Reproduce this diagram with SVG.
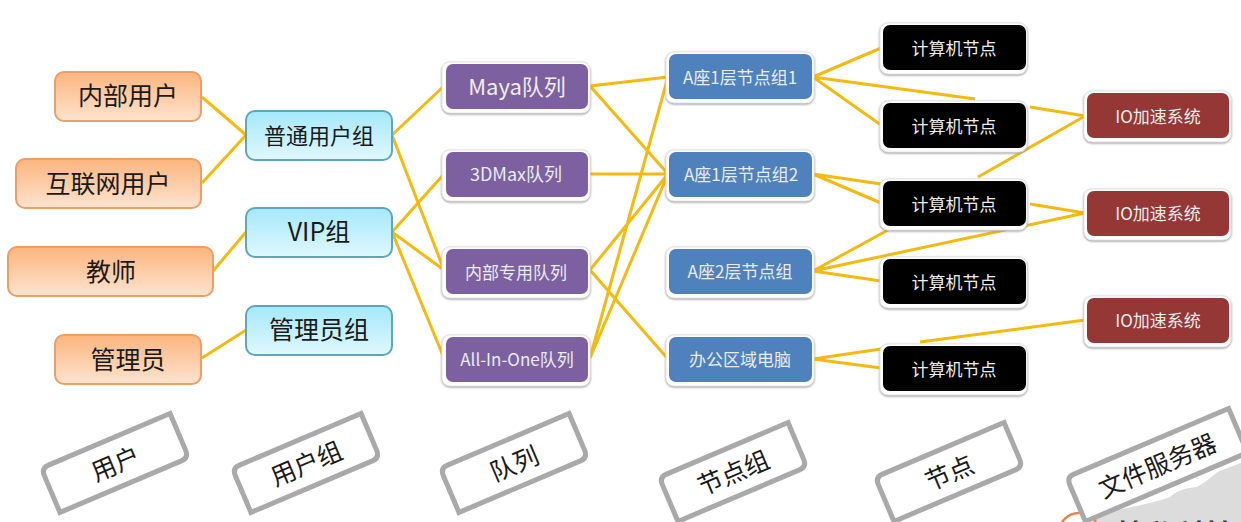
<svg xmlns="http://www.w3.org/2000/svg" width="1241" height="522" viewBox="0 0 1241 522">
<defs>
<linearGradient id="og" x1="0" y1="0" x2="0" y2="1"><stop offset="0" stop-color="#fbb57e"/><stop offset="1" stop-color="#fee3cf"/></linearGradient>
<linearGradient id="bg" x1="0" y1="0" x2="0" y2="1"><stop offset="0" stop-color="#a5e8fb"/><stop offset="1" stop-color="#e0f8fe"/></linearGradient>
<path id="tagA" d="M70 -24V16Q70 24 62 24H-70V-16Q-70 -24 -62 -24Z"/>
<path id="tagB" d="M88 -24V16Q88 24 80 24H-88V-16Q-88 -24 -80 -24Z"/>
</defs>
<style>
text{font-family:"Noto Sans CJK SC","Liberation Sans",sans-serif;text-anchor:middle;dominant-baseline:central}
.o{fill:url(#og);stroke:#eb9f68;stroke-width:2}
.b{fill:url(#bg);stroke:#5fa5bd;stroke-width:2}
.h{fill:#fff;stroke:#e6e6e6;stroke-width:1;filter:drop-shadow(0 1.5px 1px #999)}
.p{fill:#7d60a0}.s{fill:#4f81bd}.k{fill:#000}.r{fill:#953735}
.t1{font-size:25px;fill:#1a1a1a}.t2{font-size:22px;fill:#1a1a1a}.t3{font-size:25px;fill:#1a1a1a}
.w1{font-size:22px;fill:#eee}.w2{font-size:17px;fill:#e8ecf4}.w4{font-size:18px;fill:#e8ecf4}.w3{font-size:17px;fill:#eee}
.tag{fill:#fff;stroke:#a9a9a9;stroke-width:5}
.c{fill:none;stroke:#f5b90f;stroke-width:3}
</style>
<g id="watermark">
<path d="M1083 522V518C1110 510 1150 505 1170 497C1180 488 1190 488 1197 487C1210 480 1215 472 1222 470L1241 463V522Z" fill="#dcdcdc"/>
<circle cx="1079" cy="533" r="20" fill="#fff" stroke="#e8814c" stroke-width="2.5"/>
<text x="1175" y="533" style="font-size:30px;font-weight:700;fill:#333">特私科技</text>
</g>
<g id="connectors" class="c">
<path d="M202 97L246 135M202 183L246 135M213 271L246 232M202 358L246 330"/>
<path d="M392 135L444 86M392 135L444 270M392 232L444 174M392 232L444 270M392 232L444 358"/>
<path d="M590 86L668 77M590 86L668 174M590 174H668M590 270L668 174M590 270L668 359M590 358L668 77M590 358L668 174"/>
<path d="M813 77L881 48M813 77L975 99M813 77L881 125M813 174L881 184M813 174L881 203M813 271L888 230M813 271L1085 213M813 271L881 281M813 359L881 349M813 359L881 368"/>
<path d="M1030 107L1085 116M978 177L1085 116M1030 204L1085 213M920 342L1085 320"/>
</g>
<g id="n-neibu"><rect class="o" x="55" y="72" width="146" height="49" rx="9"/><text class="t1" x="128" y="94">内部用户</text></g>
<g id="n-hulian"><rect class="o" x="16" y="159" width="185" height="49" rx="9"/><text class="t1" x="108" y="182">互联网用户</text></g>
<g id="n-jiaoshi"><rect class="o" x="8" y="247" width="205" height="49" rx="9"/><text class="t1" x="111" y="270">教师</text></g>
<g id="n-guanli"><rect class="o" x="55" y="335" width="146" height="49" rx="9"/><text class="t1" x="128" y="358">管理员</text></g>
<g id="g-putong"><rect class="b" x="246" y="111" width="146" height="49" rx="9"/><text class="t2" x="319" y="134">普通用户组</text></g>
<g id="g-vip"><rect class="b" x="246" y="208" width="146" height="49" rx="9"/><text class="t1" x="319" y="230">VIP组</text></g>
<g id="g-guanli"><rect class="b" x="246" y="306" width="146" height="49" rx="9"/><text class="t1" x="319" y="328">管理员组</text></g>
<g id="q-maya"><rect class="h" x="442" y="62" width="148" height="51" rx="8"/><rect class="p" x="446" y="64" width="142" height="45" rx="7"/><text class="w1" x="517" y="85">Maya队列</text></g>
<g id="q-3d"><rect class="h" x="442" y="150" width="148" height="51" rx="8"/><rect class="p" x="446" y="152" width="142" height="45" rx="7"/><text class="w4" x="516" y="173">3DMax队列</text></g>
<g id="q-nb"><rect class="h" x="442" y="247" width="148" height="51" rx="8"/><rect class="p" x="446" y="249" width="142" height="45" rx="7"/><text class="w2" x="516" y="271">内部专用队列</text></g>
<g id="q-all"><rect class="h" x="442" y="335" width="148" height="51" rx="8"/><rect class="p" x="446" y="337" width="142" height="45" rx="7"/><text class="w2" x="517" y="358">All-In-One队列</text></g>
<g id="s-a1"><rect class="h" x="666" y="52" width="148" height="51" rx="8"/><rect class="s" x="669" y="54" width="143" height="45" rx="7"/><text class="w2" x="740" y="76">A座1层节点组1</text></g>
<g id="s-a2"><rect class="h" x="666" y="150" width="148" height="51" rx="8"/><rect class="s" x="669" y="152" width="143" height="45" rx="7"/><text class="w2" x="741" y="173">A座1层节点组2</text></g>
<g id="s-a3"><rect class="h" x="666" y="247" width="148" height="51" rx="8"/><rect class="s" x="669" y="249" width="143" height="45" rx="7"/><text class="w2" x="740" y="270">A座2层节点组</text></g>
<g id="s-bg"><rect class="h" x="666" y="335" width="148" height="51" rx="8"/><rect class="s" x="669" y="337" width="143" height="45" rx="7"/><text class="w2" x="740" y="358">办公区域电脑</text></g>
<g id="c1"><rect class="h" x="880" y="23" width="147" height="51" rx="8"/><rect class="k" x="883" y="25" width="143" height="45" rx="7"/><text class="w3" x="954" y="47">计算机节点</text></g>
<g id="c2"><rect class="h" x="880" y="101" width="147" height="51" rx="8"/><rect class="k" x="883" y="103" width="143" height="45" rx="7"/><text class="w3" x="954" y="125">计算机节点</text></g>
<g id="c3"><rect class="h" x="880" y="179" width="147" height="51" rx="8"/><rect class="k" x="883" y="181" width="143" height="45" rx="7"/><text class="w3" x="954" y="203">计算机节点</text></g>
<g id="c4"><rect class="h" x="880" y="257" width="147" height="51" rx="8"/><rect class="k" x="883" y="259" width="143" height="45" rx="7"/><text class="w3" x="954" y="281">计算机节点</text></g>
<g id="c5"><rect class="h" x="880" y="344" width="147" height="51" rx="8"/><rect class="k" x="883" y="346" width="143" height="45" rx="7"/><text class="w3" x="954" y="368">计算机节点</text></g>
<g id="io1"><rect class="h" x="1084" y="91" width="147" height="51" rx="8"/><rect class="r" x="1087" y="93" width="142" height="45" rx="7"/><text class="w3" x="1158" y="115">IO加速系统</text></g>
<g id="io2"><rect class="h" x="1084" y="189" width="147" height="51" rx="8"/><rect class="r" x="1087" y="191" width="142" height="45" rx="7"/><text class="w3" x="1158" y="212">IO加速系统</text></g>
<g id="io3"><rect class="h" x="1084" y="296" width="147" height="51" rx="8"/><rect class="r" x="1087" y="298" width="142" height="45" rx="7"/><text class="w3" x="1158" y="319">IO加速系统</text></g>
<g id="l1" transform="translate(115 463) rotate(-23)"><use href="#tagA" class="tag"/><text class="t3" y="-1">用户</text></g>
<g id="l2" transform="translate(306 463) rotate(-23)"><use href="#tagA" class="tag"/><text class="t2" y="-1" style="font-size:25px">用户组</text></g>
<g id="l3" transform="translate(514 463) rotate(-23)"><use href="#tagA" class="tag"/><text class="t3" y="-1">队列</text></g>
<g id="l4" transform="translate(733 472) rotate(-23)"><use href="#tagA" class="tag"/><text class="t3" y="-1">节点组</text></g>
<g id="l5" transform="translate(949 472) rotate(-23)"><use href="#tagA" class="tag"/><text class="t3" y="-1">节点</text></g>
<g id="l6" transform="translate(1157 465) rotate(-23)"><use href="#tagB" class="tag"/><text class="t3" y="-1">文件服务器</text></g>
</svg>
